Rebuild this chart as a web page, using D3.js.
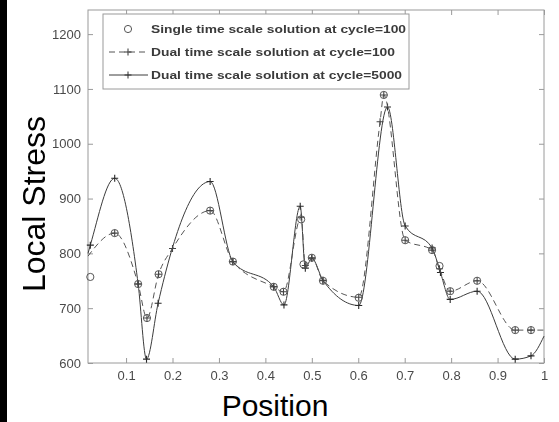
<!DOCTYPE html>
<html>
<head>
<meta charset="utf-8">
<script src="https://cdn.jsdelivr.net/npm/d3@7"></script>
<style>
    body { margin: 0; background: #fff; }
    svg { display: block; }
</style>
</head>
<body>
<div id="chart"></div>
<script>
// Single time scale solution at cycle=100 (circles only)
var singleX = [0.023, 0.0755, 0.126, 0.145, 0.170, 0.281, 0.330, 0.418, 0.439, 0.477, 0.482, 0.500, 0.524, 0.601, 0.655, 0.701, 0.759, 0.775, 0.798, 0.856, 0.938, 0.972];
var singleY = [757, 837, 744, 682, 762, 878, 785, 739, 730, 862, 780, 792, 750, 719, 1089, 824, 806, 777, 731, 750, 660, 660];

// Dual time scale solution at cycle=100 (dashed, +)
var dual100X = [0.018, 0.0755, 0.126, 0.145, 0.170, 0.200, 0.281, 0.330, 0.418, 0.439, 0.477, 0.486, 0.500, 0.524, 0.601, 0.647, 0.655, 0.701, 0.759, 0.775, 0.798, 0.856, 0.938, 0.972, 1.0];
var dual100Y = [795, 837, 744, 682, 762, 809, 878, 785, 739, 730, 866, 778, 792, 750, 720, 1040, 1089, 824, 806, 772, 731, 750, 660, 660, 660];
var dual100Mark = [0, 1, 1, 1, 1, 1, 1, 1, 1, 1, 1, 1, 1, 1, 1, 1, 1, 1, 1, 1, 1, 1, 1, 1, 0];

// Dual time scale solution at cycle=5000 (solid, +)
var dual5000X = [0.018, 0.023, 0.0755, 0.126, 0.144, 0.169, 0.281, 0.330, 0.418, 0.440, 0.475, 0.486, 0.500, 0.524, 0.601, 0.663, 0.701, 0.759, 0.777, 0.798, 0.856, 0.938, 0.972, 1.0];
var dual5000Y = [800, 815, 937, 744, 607, 709, 931, 785, 739, 706, 886, 773, 791, 751, 705, 1067, 850, 810, 765, 716, 731, 607, 613, 649];
var dual5000Mark = [0, 1, 1, 1, 1, 1, 1, 1, 1, 1, 1, 1, 1, 1, 1, 1, 1, 1, 1, 1, 1, 1, 1, 0];

var xTicks = [0.1, 0.2, 0.3, 0.4, 0.5, 0.6, 0.7, 0.8, 0.9, 1];
var yTicks = [600, 700, 800, 900, 1000, 1100, 1200];

var legendLabels = [
    "Single time scale solution at cycle=100",
    "Dual time scale solution at cycle=100",
    "Dual time scale solution at cycle=5000"
];

var W = 559, H = 422,
    plot = { left: 88, top: 10, right: 544, bottom: 363 };

var svg = d3.select("#chart").append("svg")
    .attr("width", W)
    .attr("height", H);

svg.append("defs").append("filter")
    .attr("id", "soft")
    .append("feGaussianBlur")
    .attr("stdDeviation", 0.45);

var x = d3.scaleLinear().domain([0.018, 1.0]).range([plot.left, plot.right]);
var y = d3.scaleLinear().domain([600, 1244]).range([plot.bottom, plot.top]);

function zip(xs, ys, marks) {
    return xs.map(function (v, i) {
        return { x: v, y: ys[i], mark: marks ? marks[i] : 1 };
    });
}

var g = svg.append("g").attr("filter", "url(#soft)");

// frame
g.append("rect")
    .attr("x", plot.left).attr("y", plot.top)
    .attr("width", plot.right - plot.left)
    .attr("height", plot.bottom - plot.top)
    .attr("fill", "none")
    .attr("stroke", "#9a9a9a")
    .attr("stroke-width", 1);

// inward ticks, MATLAB style, on all sides
var tickLen = 5;
g.append("g").attr("transform", "translate(0," + plot.bottom + ")")
    .call(d3.axisBottom(x).tickValues(xTicks).tickSize(-tickLen).tickPadding(8)
        .tickFormat(function (d) { return d === 1 ? "1" : d3.format(".1f")(d); }))
    .call(function (a) { a.select(".domain").remove(); });
g.append("g").attr("transform", "translate(0," + plot.top + ")")
    .call(d3.axisTop(x).tickValues(xTicks).tickSize(-tickLen).tickFormat(""))
    .call(function (a) { a.select(".domain").remove(); });
g.append("g").attr("transform", "translate(" + plot.left + ",0)")
    .call(d3.axisLeft(y).tickValues(yTicks).tickSize(-tickLen).tickPadding(7).tickFormat(d3.format("d")))
    .call(function (a) { a.select(".domain").remove(); });
g.append("g").attr("transform", "translate(" + plot.right + ",0)")
    .call(d3.axisRight(y).tickValues(yTicks).tickSize(-tickLen).tickFormat(""))
    .call(function (a) { a.select(".domain").remove(); });

g.selectAll(".tick line").attr("stroke", "#9a9a9a");
g.selectAll(".tick text")
    .attr("fill", "#4a4a4a")
    .style("font-family", "Liberation Sans, Arial, sans-serif")
    .style("font-size", "13px");

var line = d3.line()
    .x(function (d) { return x(d.x); })
    .y(function (d) { return y(d.y); })
    .curve(d3.curveMonotoneX);

var dual100 = zip(dual100X, dual100Y, dual100Mark),
    dual5000 = zip(dual5000X, dual5000Y, dual5000Mark),
    single = zip(singleX, singleY);

function plus(sel, data, color) {
    sel.selectAll(null)
        .data(data.filter(function (d) { return d.mark; }))
        .enter().append("path")
        .attr("d", function (d) {
            var cx = x(d.x), cy = y(d.y), s = 3.5;
            return "M" + (cx - s) + "," + cy + "H" + (cx + s) + "M" + cx + "," + (cy - s) + "V" + (cy + s);
        })
        .attr("stroke", color)
        .attr("stroke-width", 1.1);
}

// solid, cycle=5000
g.append("path").datum(dual5000)
    .attr("d", line)
    .attr("fill", "none")
    .attr("stroke", "#3c3c3c")
    .attr("stroke-width", 1);
plus(g, dual5000, "#2a2a2a");

// dashed, cycle=100
g.append("path").datum(dual100)
    .attr("d", line)
    .attr("fill", "none")
    .attr("stroke", "#555")
    .attr("stroke-width", 1)
    .attr("stroke-dasharray", "6,4");
plus(g, dual100, "#444");

// circles, single time scale
g.selectAll(".circ")
    .data(single)
    .enter().append("circle")
    .attr("class", "circ")
    .attr("cx", function (d) { return x(d.x); })
    .attr("cy", function (d) { return y(d.y); })
    .attr("r", 3.6)
    .attr("fill", "none")
    .attr("stroke", "#555")
    .attr("stroke-width", 1);

// legend box
var legend = g.append("g");
legend.append("rect")
    .attr("x", 103).attr("y", 14)
    .attr("width", 306).attr("height", 75)
    .attr("fill", "#fff")
    .attr("stroke", "#9a9a9a");

var rowY = [29, 52, 75],
    textLen = [255, 244, 251];

legendLabels.forEach(function (label, i) {
    var ry = rowY[i];
    if (i === 0) {
        legend.append("circle").attr("cx", 128).attr("cy", ry).attr("r", 3.6)
            .attr("fill", "none").attr("stroke", "#555");
    } else {
        legend.append("line")
            .attr("x1", 109).attr("x2", 148).attr("y1", ry).attr("y2", ry)
            .attr("stroke", i === 1 ? "#555" : "#3c3c3c")
            .attr("stroke-dasharray", i === 1 ? "6,4" : null);
        legend.append("path")
            .attr("d", "M124.5," + ry + "H131.5M128," + (ry - 3.5) + "V" + (ry + 3.5))
            .attr("stroke", "#333");
    }
    legend.append("text")
        .attr("x", 151).attr("y", ry + 4)
        .attr("textLength", textLen[i])
        .attr("lengthAdjust", "spacingAndGlyphs")
        .attr("fill", "#3a3a3a")
        .style("font-family", "Liberation Sans, Arial, sans-serif")
        .style("font-weight", "bold")
        .style("font-size", "11px")
        .text(label);
});

// left black border
svg.append("rect").attr("x", 0).attr("y", 0).attr("width", 7).attr("height", H).attr("fill", "#000");

// big overlay axis labels
svg.append("text")
    .attr("transform", "translate(45,204) rotate(-90)")
    .attr("text-anchor", "middle")
    .attr("fill", "#000")
    .style("font-family", "Liberation Sans, Arial, sans-serif")
    .style("font-size", "32px")
    .text("Local Stress");

svg.append("text")
    .attr("x", 275).attr("y", 416)
    .attr("text-anchor", "middle")
    .attr("fill", "#000")
    .style("font-family", "Liberation Sans, Arial, sans-serif")
    .style("font-size", "30px")
    .text("Position");
</script>
</body>
</html>
